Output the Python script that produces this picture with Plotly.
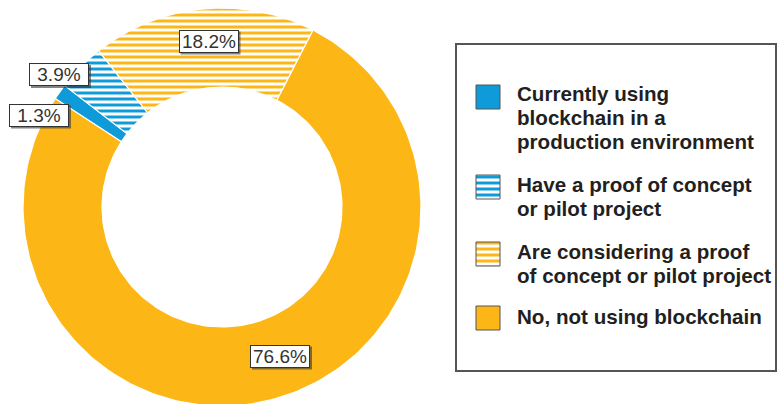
import numpy as np
import plotly.graph_objects as go

# ---------------- data ----------------
categories = [
    "Currently using blockchain in a production environment",
    "Have a proof of concept or pilot project",
    "Are considering a proof of concept or pilot project",
    "No, not using blockchain",
]
legend_lines = [
    ["Currently using", "blockchain in a", "production environment"],
    ["Have a proof of concept", "or pilot project"],
    ["Are considering a proof", "of concept or pilot project"],
    ["No, not using blockchain"],
]
values = [1.3, 3.9, 18.2, 76.6]
value_labels = ["1.3%", "3.9%", "18.2%", "76.6%"]

# ---------------- style ----------------
ORANGE = "#FCB717"
BLUE = "#0F9BD9"
slice_colors = [BLUE, BLUE, ORANGE, ORANGE]
slice_striped = [False, True, True, False]

W, H = 778, 404
CX, CY = 222, 207          # donut centre in page pixels
R_OUT, R_IN = 199, 120
START_DEG = 303.0          # clockwise from 12 o'clock, where first slice starts

def px(x):
    return x - CX

def py(y):
    return CY - y

# label box centres (page pixels)
label_pos = [(39, 115), (59, 74.5), (208.5, 41), (280, 356)]
BOX_W, BOX_H = 60, 23

fig = go.Figure()

# ---------------- donut slices ----------------
total = sum(values)
ang = START_DEG
for v, col, striped in zip(values, slice_colors, slice_striped):
    span = v / total * 360.0
    t = np.radians(np.linspace(ang, ang + span, 200))
    xo, yo = R_OUT * np.sin(t), R_OUT * np.cos(t)
    xi, yi = R_IN * np.sin(t[::-1]), R_IN * np.cos(t[::-1])
    xs = np.concatenate([xo, xi, xo[:1]])
    ys = np.concatenate([yo, yi, yo[:1]])
    kw = dict(x=xs, y=ys, mode="lines", fill="toself",
              line=dict(color="white", width=1.2), hoverinfo="skip",
              showlegend=False)
    if striped:
        kw["fillcolor"] = "white"
        kw["fillpattern"] = dict(shape="-", fgcolor=col, bgcolor="white",
                                 size=6, solidity=0.5, fillmode="replace")
    else:
        kw["fillcolor"] = col
    fig.add_trace(go.Scatter(**kw))
    ang += span

# ---------------- value labels ----------------
annotations = []
shapes = []
for txt, (lx, ly) in zip(value_labels, label_pos):
    # drop shadow
    shapes.append(dict(
        type="rect", xref="x", yref="y", layer="above",
        x0=px(lx - BOX_W / 2 + 2), x1=px(lx + BOX_W / 2 + 2),
        y0=py(ly - BOX_H / 2 + 2), y1=py(ly + BOX_H / 2 + 2),
        fillcolor="rgba(50,50,50,0.6)", line=dict(width=0)))
    annotations.append(dict(
        x=px(lx), y=py(ly), xref="x", yref="y", text=txt,
        showarrow=False, width=BOX_W - 2, height=BOX_H - 2, bgcolor="white",
        bordercolor="#333333", borderwidth=1, borderpad=0,
        font=dict(size=19, color="#333333",
                  family="Liberation Sans Narrow, Arial Narrow, Liberation Sans, Arial")))

# ---------------- legend (manual) ----------------
shapes.append(dict(type="rect", xref="x", yref="y",
                   x0=px(456), x1=px(776), y0=py(44), y1=py(371),
                   line=dict(color="#555555", width=2), fillcolor="rgba(0,0,0,0)"))

sq_tops = [85, 175, 242, 306]
line_centres = [[93, 117, 141], [184, 208], [251, 275], [316]]
SQ = 24
for i in range(len(categories)):
    x0, x1 = px(476), px(476 + SQ)
    y0, y1 = py(sq_tops[i]), py(sq_tops[i] + SQ)
    if slice_striped[i]:
        fig.add_trace(go.Scatter(
            x=[x0, x1, x1, x0, x0], y=[y0, y0, y1, y1, y0], mode="lines",
            fill="toself", fillcolor="white",
            fillpattern=dict(shape="-", fgcolor=slice_colors[i], bgcolor="white",
                             size=6, solidity=0.5, fillmode="replace"),
            line=dict(color="#555555", width=1), hoverinfo="skip", showlegend=False))
    else:
        shapes.append(dict(type="rect", xref="x", yref="y", x0=x0, x1=x1, y0=y0, y1=y1,
                           fillcolor=slice_colors[i], line=dict(color="#555555", width=1)))
    for ln, yc in zip(legend_lines[i], line_centres[i]):
        annotations.append(dict(
            x=px(515), y=py(yc), xref="x", yref="y", text=f"<b>{ln}</b>",
            showarrow=False, xanchor="left", yanchor="middle",
            font=dict(size=20.6, color="#231F20", family="Liberation Sans, Arial")))

fig.update_layout(
    width=W, height=H, margin=dict(l=0, r=0, t=0, b=0),
    paper_bgcolor="white", plot_bgcolor="white", showlegend=False,
    xaxis=dict(range=[px(0), px(W)], visible=False, fixedrange=True),
    yaxis=dict(range=[py(H), py(0)], visible=False, fixedrange=True),
    shapes=shapes, annotations=annotations,
)

fig.write_html("out.html")
